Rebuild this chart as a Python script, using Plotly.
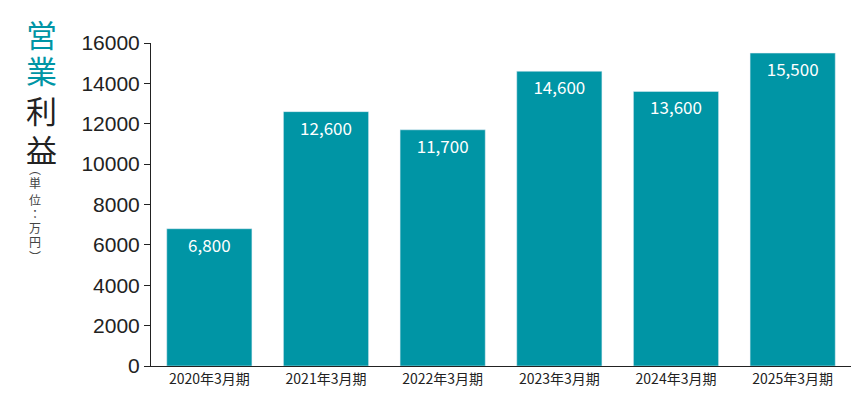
import plotly.graph_objects as go

categories = ["2020年3月期", "2021年3月期", "2022年3月期", "2023年3月期", "2024年3月期", "2025年3月期"]
values = [6800, 12600, 11700, 14600, 13600, 15500]
labels = ["6,800", "12,600", "11,700", "14,600", "13,600", "15,500"]
tick_vals = [0, 2000, 4000, 6000, 8000, 10000, 12000, 14000, 16000]
tick_text = [str(v) for v in tick_vals]

TEAL = "#0095A5"
FONT = "Noto Sans CJK JP"
L, R, T, B = 143, 17, 35, 42
W, H = 860, 400
PW, PH = W - L - R, H - T - B

fig = go.Figure(go.Bar(
    x=categories, y=values, text=labels, textposition="inside",
    insidetextanchor="end", marker_color=TEAL,
    textfont=dict(color="white", size=17, family=FONT),
))
fig.update_layout(
    width=W, height=H, plot_bgcolor="white", paper_bgcolor="white",
    margin=dict(l=L, r=R, t=T, b=B, autoexpand=False), bargap=0.27, showlegend=False,
    font=dict(family=FONT, color="#222"),
    uniformtext=dict(minsize=17, mode="show"),
)
fig.update_yaxes(range=[0, 16000], tickvals=tick_vals, ticktext=tick_text, showgrid=False,
                 showline=True, linecolor="#222", linewidth=1, automargin=False,
                 ticks="outside", ticklen=6, tickcolor="#222",
                 tickfont=dict(size=21, family="Liberation Sans", color="#222"), zeroline=False)
fig.update_xaxes(showline=True, linecolor="#222", linewidth=1, ticks="", automargin=False,
                 tickfont=dict(size=14, family=FONT, color="#222"))

def px(x, y):
    return (x - L) / PW, (H - B - y) / PH

for ch, y, col in [("営", 25, TEAL), ("業", 62, TEAL), ("利", 101, "#222"), ("益", 140, "#222")]:
    ax, ay = px(33, y)
    fig.add_annotation(xref="paper", yref="paper", x=ax, y=ay, xanchor="center", yanchor="middle",
                       text=ch, showarrow=False, font=dict(size=31, family=FONT, color=col))
for ch, y in [("︵", 160), ("単", 174), ("位", 191), ("：", 205), ("万", 219), ("円", 233), ("︶", 248)]:
    ax, ay = px(27, y)
    fig.add_annotation(xref="paper", yref="paper", x=ax, y=ay, xanchor="center", yanchor="middle",
                       text=ch, showarrow=False, font=dict(size=12, family=FONT, color="#444"))

fig.write_html("out.html")
